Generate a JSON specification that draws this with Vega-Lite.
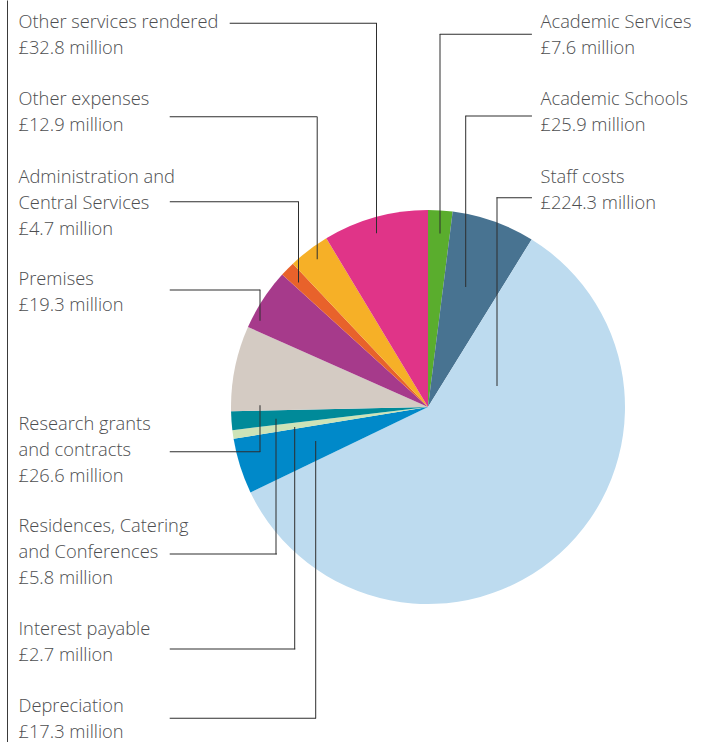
{
  "$schema": "https://vega.github.io/schema/vega-lite/v6.json",
  "width": 550,
  "height": 670,
  "padding": {"left": 153, "top": 72, "right": 0, "bottom": 0},
  "autosize": {"type": "none"},
  "background": "white",
  "config": {"view": {"stroke": null}},
  "data": {
    "values": [
      {"rank": 1, "category": "Academic Services", "value": 7.6, "label": "Academic Services\n£7.6 million"},
      {"rank": 2, "category": "Academic Schools", "value": 25.9, "label": "Academic Schools\n£25.9 million"},
      {"rank": 3, "category": "Staff costs", "value": 224.3, "label": "Staff costs\n£224.3 million"},
      {"rank": 4, "category": "Depreciation", "value": 17.3, "label": "Depreciation\n£17.3 million"},
      {"rank": 5, "category": "Interest payable", "value": 2.7, "label": "Interest payable\n£2.7 million"},
      {"rank": 6, "category": "Residences, Catering and Conferences", "value": 5.8, "label": "Residences, Catering\nand Conferences\n£5.8 million"},
      {"rank": 7, "category": "Research grants and contracts", "value": 26.6, "label": "Research grants\nand contracts\n£26.6 million"},
      {"rank": 8, "category": "Premises", "value": 19.3, "label": "Premises\n£19.3 million"},
      {"rank": 9, "category": "Administration and Central Services", "value": 4.7, "label": "Administration and\nCentral Services\n£4.7 million"},
      {"rank": 10, "category": "Other expenses", "value": 12.9, "label": "Other expenses\n£12.9 million"},
      {"rank": 11, "category": "Other services rendered", "value": 32.8, "label": "Other services rendered\n£32.8 million"}
    ]
  },
  "resolve": {"scale": {"x": "independent", "y": "independent", "size": "independent"}},
  "layer": [
    {
      "mark": {"type": "arc", "outerRadius": 197},
      "encoding": {
        "theta": {"field": "value", "type": "quantitative", "stack": true},
        "order": {"field": "rank", "type": "quantitative"},
        "color": {
          "field": "category",
          "type": "nominal",
          "legend": null,
          "scale": {
            "domain": ["Academic Services", "Academic Schools", "Staff costs", "Depreciation", "Interest payable", "Residences, Catering and Conferences", "Research grants and contracts", "Premises", "Administration and Central Services", "Other expenses", "Other services rendered"],
            "range": ["#5aad2d", "#487391", "#bddbef", "#0089c9", "#cde3b7", "#008a99", "#d4cbc3", "#a63a8b", "#e8622b", "#f6b027", "#e03488"]
          }
        }
      }
    },
    {
      "mark": {"type": "text", "align": "left", "baseline": "alphabetic", "font": "Open Sans", "fontSize": 18.3, "fontWeight": 350, "lineHeight": 26, "lineBreak": "\n", "color": "#4d4e50"},
      "encoding": {
        "text": {"field": "label", "type": "nominal"},
        "x": {
          "field": "rank", "type": "quantitative", "axis": null,
          "scale": {"domain": [1, 3, 4, 11], "range": [387.5, 387.5, -134.5, -134.5], "nice": false, "zero": false}
        },
        "y": {
          "field": "rank", "type": "quantitative",
          "axis": {"orient": "left", "offset": 146, "domain": true, "domainColor": "#3a3a3a", "domainWidth": 1, "ticks": false, "labels": false, "grid": false, "title": null},
          "scale": {"domain": [0, 1, 2, 3, 4, 5, 6, 7, 8, 9, 10, 11, 12], "range": [-72, -44.5, 33, 110.5, 639.5, 563, 460, 358, 213, 110.5, 33, -44.5, 670], "nice": false, "zero": false}
        }
      }
    },
    {
      "mark": {"type": "tick", "orient": "horizontal", "thickness": 1, "color": "#2e2e2e", "opacity": 1},
      "encoding": {
        "x": {
          "field": "rank", "type": "quantitative", "axis": null,
          "scale": {"domain": [1, 2, 3, 4, 5, 6, 7, 8, 9, 10, 11], "range": [332.8, 345.7, 361.2, 89.8, 79.5, 70.3, 62, 62, 81.2, 90.3, 150.3], "nice": false, "zero": false}
        },
        "y": {
          "field": "rank", "type": "quantitative", "axis": null,
          "scale": {"domain": [1, 2, 3, 4, 5, 6, 7, 8, 9, 10, 11], "range": [-37.7, 44, 125.7, 646.3, 577, 482, 379.7, 218, 129.7, 44.7, -48.7], "nice": false, "zero": false}
        },
        "size": {
          "field": "rank", "type": "quantitative", "legend": null,
          "scale": {"domain": [1, 2, 3, 4, 5, 6, 7, 8, 9, 10, 11], "range": [92.2, 66.5, 35.5, 146.2, 125.5, 107.2, 90.5, 90.5, 128.8, 147.2, 147.2], "nice": false, "zero": false}
        }
      }
    },
    {
      "mark": {"type": "tick", "orient": "vertical", "thickness": 1, "color": "#2e2e2e", "opacity": 1},
      "encoding": {
        "x": {
          "field": "rank", "type": "quantitative", "axis": null,
          "scale": {"domain": [1, 2, 3, 4, 5, 6, 7, 8, 9, 10, 11], "range": [287, 312.7, 344, 162.7, 141.7, 123, 107, 107, 145.5, 164.2, 223.5], "nice": false, "zero": false}
        },
        "y": {
          "field": "rank", "type": "quantitative", "axis": null,
          "scale": {"domain": [1, 2, 3, 4, 5, 6, 7, 8, 9, 10, 11], "range": [61.8, 129.3, 219.7, 507.8, 466.2, 414.5, 356.6, 233.3, 170, 115.9, 56.2], "nice": false, "zero": false}
        },
        "size": {
          "field": "rank", "type": "quantitative", "legend": null,
          "scale": {"domain": [1, 2, 3, 4, 5, 6, 7, 8, 9, 10, 11], "range": [199.5, 171.2, 188.5, 277.5, 222.2, 135.5, 46.7, 31, 81.1, 142.8, 210.2], "nice": false, "zero": false}
        }
      }
    }
  ]
}
